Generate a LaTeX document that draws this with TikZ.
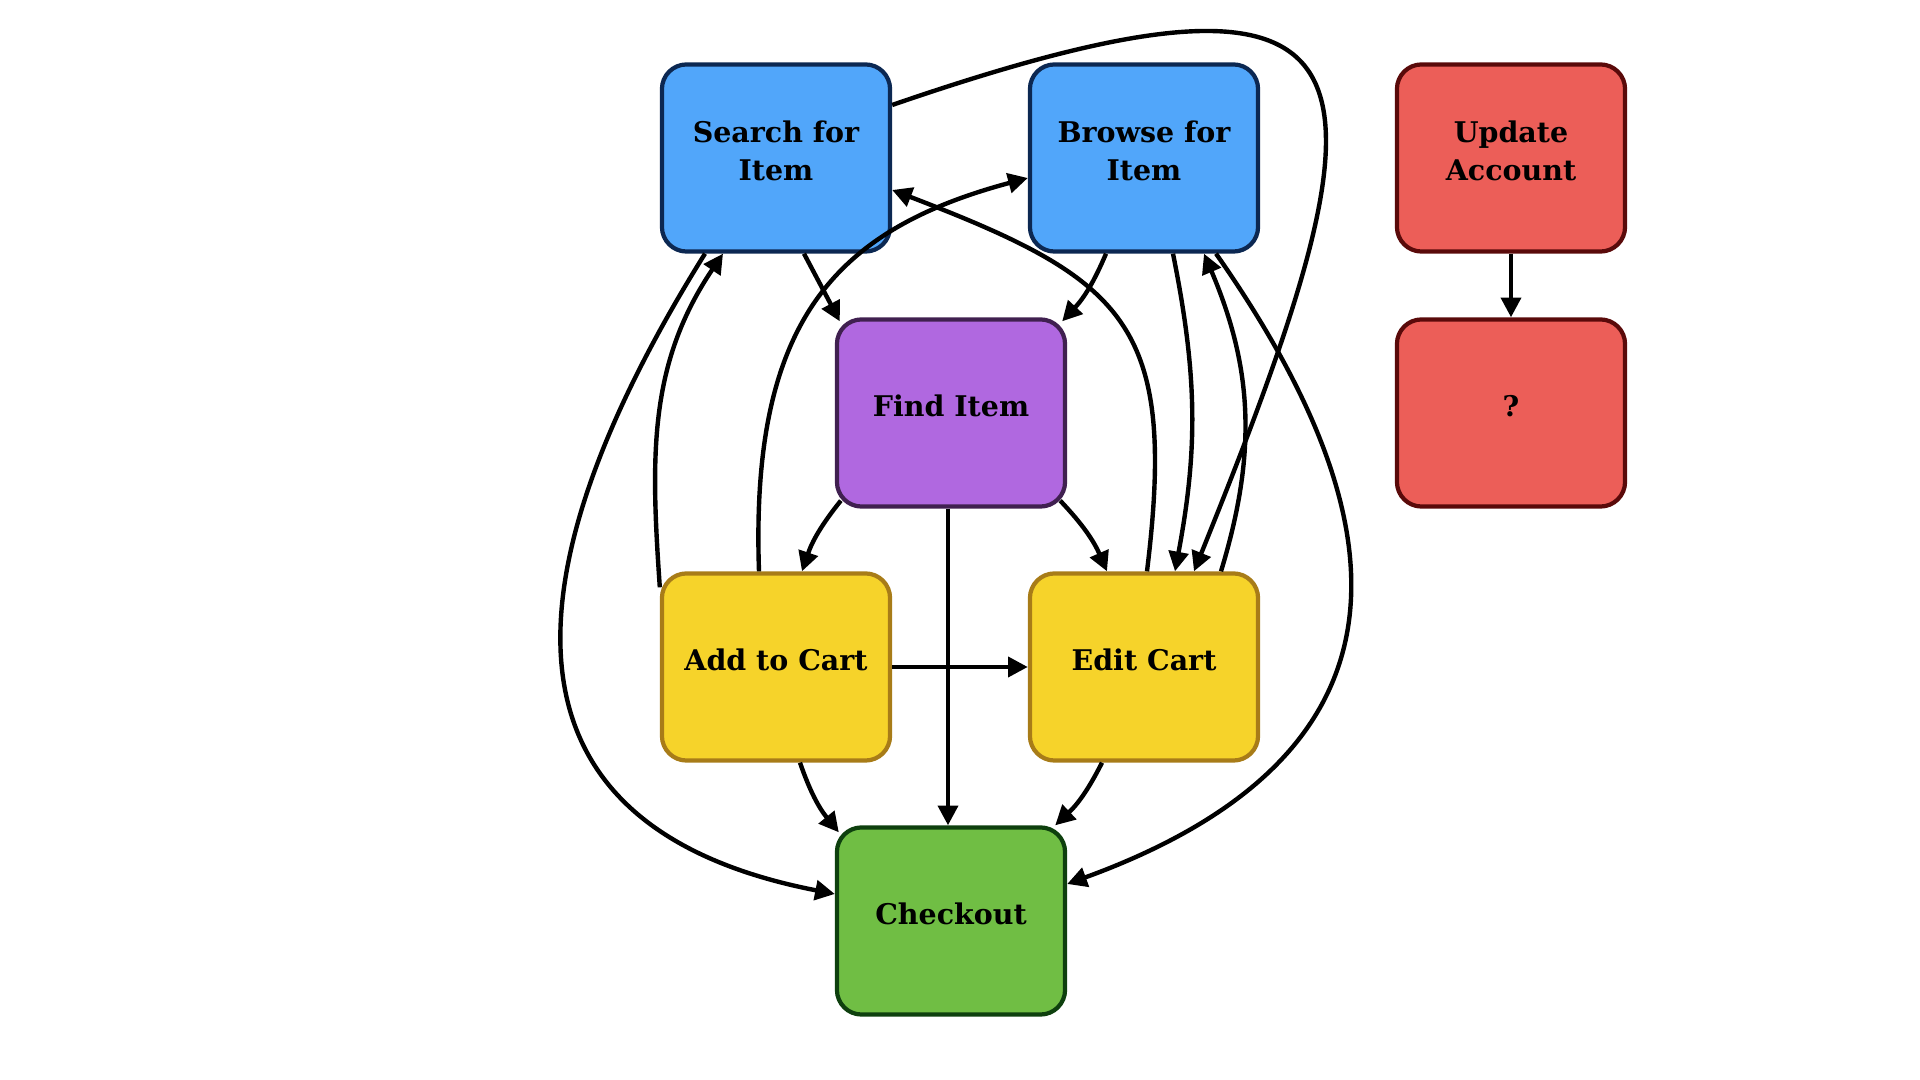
\documentclass[tikz,border=0pt]{standalone}
\usepackage{fontspec}
\setmainfont{DejaVu Serif}
\usetikzlibrary{arrows.meta}
\definecolor{findblue}{RGB}{81, 166, 250}
\definecolor{findnavy}{RGB}{12, 40, 82}
\definecolor{itempurple}{RGB}{176, 104, 224}
\definecolor{itemplum}{RGB}{64, 32, 80}
\definecolor{cartyellow}{RGB}{246, 211, 42}
\definecolor{cartbrown}{RGB}{168, 124, 24}
\definecolor{paygreen}{RGB}{112, 190, 68}
\definecolor{paydark}{RGB}{14, 64, 14}
\definecolor{accred}{RGB}{236, 94, 88}
\definecolor{accdark}{RGB}{90, 10, 10}
\tikzset{
    box/.style={
        rectangle, rounded corners=7pt, minimum width=2.28cm, minimum height=1.87cm,
        line width=1.2pt, text=black, font=\fontsize{8.1}{10.8}\selectfont\bfseries,
        align=center, execute at end node={\rule[-4pt]{0pt}{4pt}}
    },
    bluebox/.style={box, draw=findnavy, fill=findblue},
    purplebox/.style={box, draw=itemplum, fill=itempurple},
    yellowbox/.style={box, draw=cartbrown, fill=cartyellow},
    greenbox/.style={box, draw=paydark, fill=paygreen},
    redbox/.style={box, draw=accdark, fill=accred},
    arrow/.style={-{Triangle[length=5.6pt, width=5.6pt]}, line width=1.25pt, color=black},
}

\begin{document}
\begin{tikzpicture}[x=0.01cm, y=0.01cm]
    \useasboundingbox (0,0) rectangle (1920,-1080);

    \node[bluebox] (search) at (776,-158) {Search for\\Item};
    \node[bluebox] (browse) at (1144,-158) {Browse for\\Item};
    \node[redbox] (account) at (1511,-158) {Update\\Account};
    \node[purplebox] (find) at (951,-413) {Find Item};
    \node[redbox] (unknown) at (1511,-413) {?};
    \node[yellowbox] (add) at (776,-667) {Add to Cart};
    \node[yellowbox] (edit) at (1144,-667) {Edit Cart};
    \node[greenbox] (checkout) at (951,-921) {Checkout};

    % into Find Item
    \draw[arrow] ([shift={(28,0)}]search.south) -- ([shift={(5,-4)}]find.north west);
    \draw[arrow] ([shift={(-38,0)}]browse.south) to[bend left=10] ([shift={(-5,-4)}]find.north east);

    % long ones
    \draw[arrow] ([shift={(0,53)}]search.east) .. controls +(19:545) and +(68:545) .. ([shift={(50,0)}]edit.north);
    \draw[arrow] ([shift={(72,0)}]browse.south) .. controls +(-55:290) and +(20:410) .. ([shift={(0,37)}]checkout.east);
    \draw[arrow] ([shift={(-71,0)}]search.south) .. controls +(238:320) and +(169:390) .. ([shift={(0,27)}]checkout.west);

    \draw[arrow] ([shift={(29,0)}]browse.south) to[bend left=11] ([shift={(31,0)}]edit.north);
    \draw[arrow] ([shift={(77,0)}]edit.north) to[bend right=20] ([shift={(60,0)}]browse.south);
    \draw[arrow] ([shift={(0,-16)}]add.north west) to[out=94, in=-124] ([shift={(-53,0)}]search.south);
    \draw[arrow] ([shift={(-17,0)}]add.north) .. controls +(92:250) and +(195:200) .. ([shift={(0,-20)}]browse.west);
    \draw[arrow] ([shift={(3,0)}]edit.north) .. controls +(83:250) and +(-21:250) .. ([shift={(0,-32)}]search.east);

    % out of Find Item
    \draw[arrow] ([shift={(6,8)}]find.south west) to[bend right=10] ([shift={(26,0)}]add.north);
    \draw[arrow] ([shift={(-7,8)}]find.south east) to[bend left=10] ([shift={(-37,0)}]edit.north);
    \draw[arrow] ([shift={(-3,0)}]find.south) -- ([shift={(-3,0)}]checkout.north);

    % cart
    \draw[arrow] (add) -- (edit);
    \draw[arrow] ([shift={(24,0)}]add.south) to[bend right=10] ([shift={(4,-7)}]checkout.north west);
    \draw[arrow] ([shift={(-42,0)}]edit.south) to[bend left=10] ([shift={(-12,0)}]checkout.north east);

    \draw[arrow] (account) -- (unknown);
\end{tikzpicture}
\end{document}
